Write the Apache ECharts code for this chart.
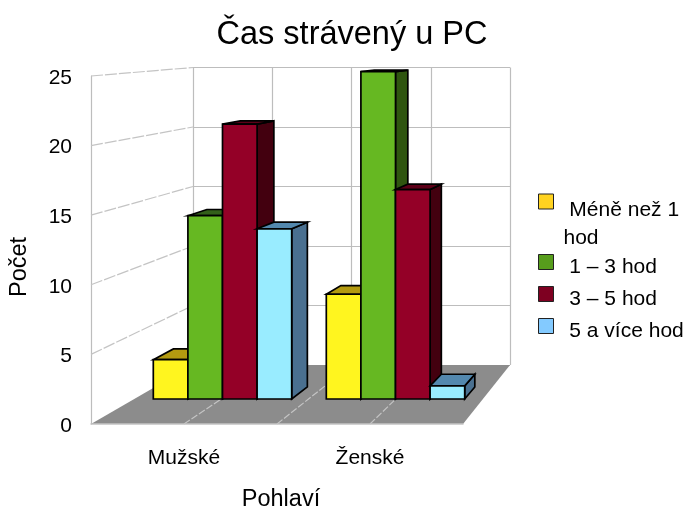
<!DOCTYPE html>
<html><head><meta charset="utf-8">
<style>html,body{margin:0;padding:0;background:#fff}#c{width:688px;height:509px}</style>
<script src="https://cdn.jsdelivr.net/npm/echarts@6/dist/echarts.min.js"></script>
</head><body><div id="c"></div>
<script>
const categories = ['Mužské', 'Ženské'];
const lessThanOne = [3, 8];
const oneToThree = [14, 25];
const threeToFive = [21, 16];
const fivePlus = [13, 1];
const seriesNames = ['Méně než 1 hod', '1 – 3 hod', '3 – 5 hod', '5 a více hod'];
const yTicks = [0, 5, 10, 15, 20, 25];

const FONT = '"Liberation Sans", Arial, sans-serif';
const FRONT = { left: 91, top: 76, width: 372, height: 348 };
const BACK = { left: 193, top: 67.5, width: 317, height: 297.5 };
const BARS = { left: 136, top: 71.7, width: 346, height: 327.3 };
const VP = [781, 22], DEPTH = 0.032;
const back = p => [p[0] + DEPTH * (VP[0] - p[0]), p[1] + DEPTH * (VP[1] - p[1])];

const palettes = [
  { base: '#ffd320', front: '#fff51f', top: '#b39a10', side: '#8a7510' },
  { base: '#579d1c', front: '#66b822', top: '#33601a', side: '#2f5510' },
  { base: '#7e0021', front: '#940027', top: '#5c0018', side: '#43000f' },
  { base: '#83caff', front: '#99ecff', top: '#5388ae', side: '#4a7090' }
];
const EDGE = { stroke: '#000', lineWidth: 1.7, lineJoin: 'miter' };
const LINE = { stroke: '#c4c4c4', lineWidth: 1.2 };

function barRender(idx) {
  return function (params, api) {
    const c = api.coord([api.value(0), api.value(1)]);
    const b = api.coord([api.value(0), 0]);
    const w = api.size([1, 0])[0] * 0.2;
    const l = c[0] + (idx - 2) * w, r = l + w;
    const tl = [l, c[1]], tr = [r, c[1]], br = [r, b[1]];
    const btl = back(tl), btr = back(tr), bbr = back(br);
    const pal = palettes[idx];
    return {
      type: 'group',
      children: [
        { type: 'polygon', shape: { points: [tr, btr, bbr, br] }, style: Object.assign({ fill: pal.side }, EDGE) },
        { type: 'polygon', shape: { points: [tl, btl, btr, tr] }, style: Object.assign({ fill: pal.top }, EDGE) },
        { type: 'rect', shape: { x: l, y: c[1], width: w, height: b[1] - c[1] }, style: Object.assign({ fill: pal.front }, EDGE) }
      ]
    };
  };
}

function roomRender() {
  const fl = FRONT.left, fb = FRONT.top + FRONT.height, fr = FRONT.left + FRONT.width;
  const bl = BACK.left, bb = BACK.top + BACK.height, br = BACK.left + BACK.width;
  const kids = [{ type: 'polygon', shape: { points: [[fl, fb], [bl, bb], [br, bb], [fr, fb]] }, style: { fill: '#8c8c8c' } }];
  [0.25, 0.5, 0.75].forEach(t => kids.push({
    type: 'line',
    shape: { x1: fl + t * FRONT.width, y1: fb, x2: bl + t * BACK.width, y2: bb },
    style: Object.assign({ lineDash: [7, 2] }, LINE)
  }));
  yTicks.forEach(v => {
    if (!v) return;
    const t = v / 25;
    kids.push({
      type: 'line',
      shape: { x1: fl, y1: fb - t * FRONT.height, x2: bl, y2: bb - t * BACK.height },
      style: Object.assign({ lineDash: [12, 2] }, LINE)
    });
  });
  return { type: 'group', children: kids };
}

const valueLists = [lessThanOne, oneToThree, threeToFive, fivePlus];
const series = [{
  type: 'custom', name: 'room', coordinateSystem: 'cartesian2d', xAxisIndex: 1, yAxisIndex: 1,
  data: [[0, 0]], renderItem: roomRender, silent: true, z: 1, clip: false
}].concat(seriesNames.map((name, i) => ({
  type: 'custom', name, coordinateSystem: 'cartesian2d', xAxisIndex: 2, yAxisIndex: 2,
  encode: { x: 0, y: 1 }, data: valueLists[i].map((v, k) => [k, v]),
  renderItem: barRender(i), itemStyle: { color: palettes[i].base }, z: 2 + i, clip: false, silent: true
})));

const legendTops = [151, 245, 277, 309];
const legendSpacers = [45, 11, 11, 11];
const legendLines = [28, 23, 23, 23];
const legend = seriesNames.map((name, i) => ({
  data: [name], left: 538, top: legendTops[i], orient: 'vertical', padding: 0,
  selectedMode: false, icon: 'rect', itemWidth: 15, itemHeight: 15,
  itemStyle: { borderColor: '#222', borderWidth: 1 },
  formatter: n => '{s| }\n' + n.replace('1 hod', '1\nhod').split('\n').map((l, k) => '{t|' + (k ? '' : ' ') + l + '}').join('\n'),
  textStyle: {
    fontFamily: FONT, fontSize: 21, color: '#000',
    rich: {
      s: { fontSize: 1, lineHeight: legendSpacers[i], height: legendSpacers[i] },
      t: { fontFamily: FONT, fontSize: 21, color: '#000', lineHeight: legendLines[i], padding: [0, 0, 0, 5] }
    }
  }
}));

const chart = echarts.init(document.getElementById('c'), null, { renderer: 'canvas' });
chart.setOption({
  animation: false,
  backgroundColor: '#fff',
  title: { text: 'Čas strávený u PC', left: 347, top: 14, textAlign: 'center',
    textStyle: { fontFamily: FONT, fontSize: 32.5, fontWeight: 'normal', color: '#000' } },
  legend,
  grid: [FRONT, BACK, BARS].map(g => Object.assign({ containLabel: false, outerBoundsMode: 'none' }, g)),
  xAxis: [
    { gridIndex: 0, type: 'category', data: categories, z: 3,
      axisLine: { show: true, lineStyle: { color: '#c4c4c4', width: 1.5 } }, axisTick: { show: false },
      axisLabel: { fontFamily: FONT, fontSize: 21, color: '#000', margin: 24 },
      name: 'Pohlaví', nameLocation: 'middle', nameGap: 64,
      nameTextStyle: { fontFamily: FONT, fontSize: 23.5, color: '#000', padding: [0, 0, 0, 8] } },
    { gridIndex: 1, type: 'value', min: 0, max: 2, interval: 0.5, axisLabel: { show: false },
      axisLine: { show: false }, axisTick: { show: false },
      splitLine: { show: true, lineStyle: { color: '#bdbdbd', width: 1.2 } } },
    { gridIndex: 2, type: 'category', data: categories, show: false }
  ],
  yAxis: [
    { gridIndex: 0, type: 'value', min: 0, max: 25, interval: 5,
      axisLine: { show: true, lineStyle: { color: '#bdbdbd', width: 1.2 } }, axisTick: { show: false }, splitLine: { show: false },
      axisLabel: { color: '#000', margin: 19, formatter: v => '{s| }\n{t|' + v + '}',
        rich: { s: { fontSize: 1, lineHeight: 4, height: 4 }, t: { fontFamily: FONT, fontSize: 21, color: '#000', lineHeight: 24 } } },
      name: 'Počet', nameLocation: 'middle', nameGap: 59, nameRotate: 90,
      nameTextStyle: { fontFamily: FONT, fontSize: 23.5, color: '#000', padding: [0, 34, 0, 0] } },
    { gridIndex: 1, type: 'value', min: 0, max: 25, interval: 5, axisLabel: { show: false },
      axisLine: { show: false }, axisTick: { show: false },
      splitLine: { show: true, lineStyle: { color: '#bdbdbd', width: 1.2 } } },
    { gridIndex: 2, type: 'value', min: 0, max: 25, show: false }
  ],
  series
});
</script></body></html>
